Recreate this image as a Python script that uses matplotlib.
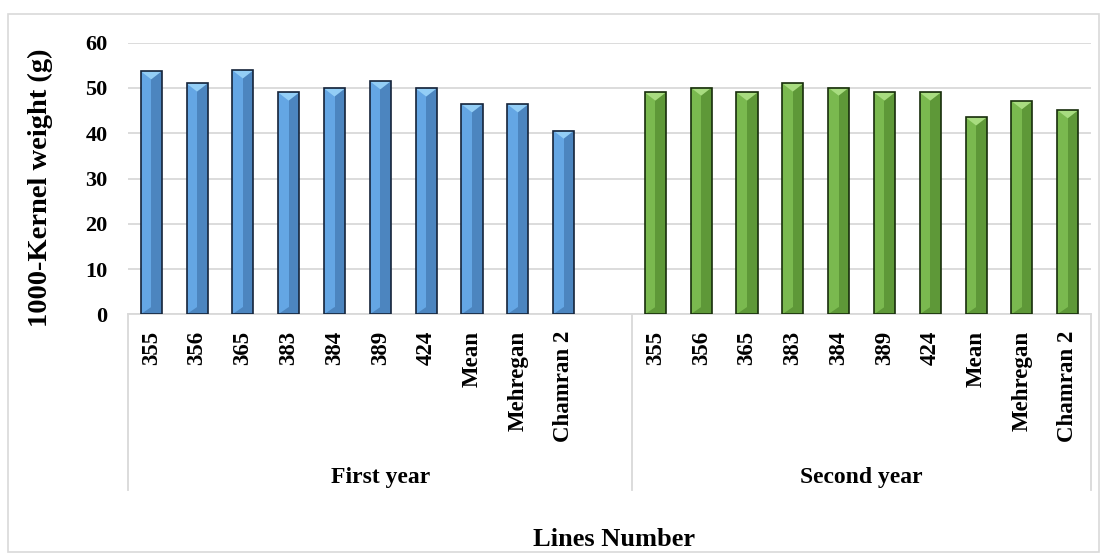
import matplotlib.pyplot as plt
from matplotlib.patches import Polygon, Rectangle
import numpy as np

plt.rcParams['font.family'] = ['Liberation Serif', 'DejaVu Serif']
plt.rcParams['font.weight'] = 'bold'

lines = ["355", "356", "365", "383", "384", "389", "424", "Mean", "Mehregan", "Chamran 2"]
first_year = [53.7, 51.0, 53.9, 49.0, 49.9, 51.5, 49.9, 46.4, 46.4, 40.6]
second_year = [49.0, 50.1, 49.0, 51.0, 50.1, 49.0, 49.0, 43.5, 47.1, 45.1]
groups = ["First year", "Second year"]

W, H = 1107, 553
fig = plt.figure(figsize=(W/100, H/100), dpi=100)
ax = fig.add_axes([128.3/W, 1-314.3/H, 962.4/W, 271.6/H])

# outer chart frame
fig.patches.append(Rectangle((8.3/W, 1/H), 1091/W, 538/H, transform=fig.transFigure,
                             fill=False, edgecolor='#D9D9D9', linewidth=1.2))

x1 = np.arange(len(lines))
x2 = np.arange(len(lines)) + 11
w = 0.46


def bevel_bars(xs, vals, main, dark, light, edge):
    ax.bar(xs, vals, width=w, color=main, linewidth=0, zorder=3)
    ax.bar(xs + w/4, vals, width=w/2, color=dark, linewidth=0, zorder=3)
    for x, v in zip(xs, vals):
        ax.add_patch(Polygon([(x - w/2, v), (x + w/2, v), (x, v - 1.8)],
                             closed=True, color=light, linewidth=0, zorder=4))
        ax.add_patch(Polygon([(x - w/2, 0), (x + w/2, 0), (x, 1.6)],
                             closed=True, color=dark, linewidth=0, zorder=4))
    ax.bar(xs, vals, width=w, fill=False, edgecolor=edge, linewidth=1.2, zorder=5)


bevel_bars(x1, first_year, '#64A6E4', '#4C85BF', '#93CEF6', '#15243A')
bevel_bars(x2, second_year, '#7AB94F', '#5E9838', '#A8DC80', '#182E0C')

ax.set_xlim(-0.5, 20.5)
ax.set_ylim(0, 60)
ax.set_yticks(range(0, 61, 10))
ax.yaxis.grid(True, color='#D9D9D9', linewidth=1.3)
ax.set_axisbelow(True)
for s in ['top', 'right', 'left']:
    ax.spines[s].set_visible(False)
ax.spines['bottom'].set_color('#D9D9D9')
ax.spines['bottom'].set_linewidth(1.3)
ax.tick_params(axis='y', length=0, labelsize=16, pad=15)
ax.set_xticks(list(x1) + list(x2))
ax.set_xticklabels(lines + lines, rotation=90, fontsize=16.5, fontweight='bold')
ax.tick_params(axis='x', length=0, pad=12)
for t in ax.get_yticklabels():
    t.set_fontweight('bold')

# group dividers and labels
tr = ax.get_xaxis_transform()
ybot = (314.3 - 490) / 271.6
for xv in [-0.5, 10.5, 20.5]:
    ax.plot([xv, xv], [0, ybot], transform=tr, color='#D9D9D9', linewidth=1.3, clip_on=False)
ylab = (314.3 - 477) / 271.6
ax.text(5, ylab, groups[0], transform=tr, ha='center', va='center', fontsize=17, fontweight='bold')
ax.text(15.5, ylab, groups[1], transform=tr, ha='center', va='center', fontsize=17, fontweight='bold')

fig.text(40/W, 1-188/H, "1000-Kernel weight (g)", rotation=90, ha='center', va='center',
         fontsize=20.5, fontweight='bold')
fig.text(614/W, 1-540/H, "Lines Number", ha='center', va='center', fontsize=19, fontweight='bold')

fig.savefig('out.png', dpi=100)
